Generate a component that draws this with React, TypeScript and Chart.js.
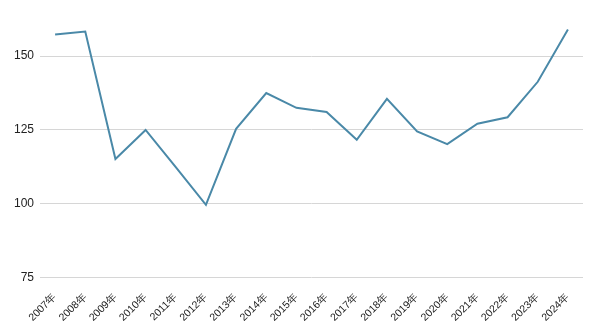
import React, { useEffect, useRef } from "react";
import { Chart, registerables } from "chart.js";

Chart.register(...registerables);

const categories = ["2007年", "2008年", "2009年", "2010年", "2011年", "2012年", "2013年", "2014年", "2015年", "2016年", "2017年", "2018年", "2019年", "2020年", "2021年", "2022年", "2023年", "2024年"];
const values = [157.3, 158.3, 115.2, 125.0, 112.4, 99.7, 125.4, 137.5, 132.5, 131.1, 121.7, 135.5, 124.5, 120.2, 127.1, 129.3, 141.3, 159.0];
const yTicks = [75, 100, 125, 150];

export default function App() {
  const ref = useRef<HTMLCanvasElement>(null);
  useEffect(() => {
    if (!ref.current) return;
    const chart = new Chart(ref.current, {
      type: "line",
      data: {
        labels: categories,
        datasets: [
          {
            data: values,
            borderColor: "#4a89a8",
            borderWidth: 2,
            pointRadius: 0,
            tension: 0,
            fill: false,
          },
        ],
      },
      options: {
        animation: false,
        responsive: false,
        maintainAspectRatio: false,
        layout: { padding: { top: 26.5, right: 19, left: 8, bottom: 4 } },
        plugins: { legend: { display: false }, tooltip: { enabled: false } },
        scales: {
          x: {
            offset: true,
            grid: { display: false },
            border: { display: false },
            ticks: {
              autoSkip: false,
              maxRotation: 45,
              minRotation: 45,
              color: "#222",
              font: { family: "Liberation Sans, Arial, sans-serif", size: 10.5 },
              padding: 5,
            },
          },
          y: {
            min: 75,
            max: 160,
            border: { display: false },
            grid: { color: "#d6d6d6", lineWidth: 1, drawTicks: false },
            afterBuildTicks: (axis: any) => {
              axis.ticks = yTicks.map((v) => ({ value: v }));
            },
            ticks: {
              color: "#222",
              font: { family: "Liberation Sans, Arial, sans-serif", size: 12 },
              padding: 6,
            },
          },
        },
      },
    });
    return () => chart.destroy();
  }, []);
  return (
    <div style={{ position: "fixed", left: 0, top: 0, width: 602, height: 333, background: "#fff" }}>
      <canvas ref={ref} width={602} height={333} style={{ width: 602, height: 333 }} />
    </div>
  );
}
